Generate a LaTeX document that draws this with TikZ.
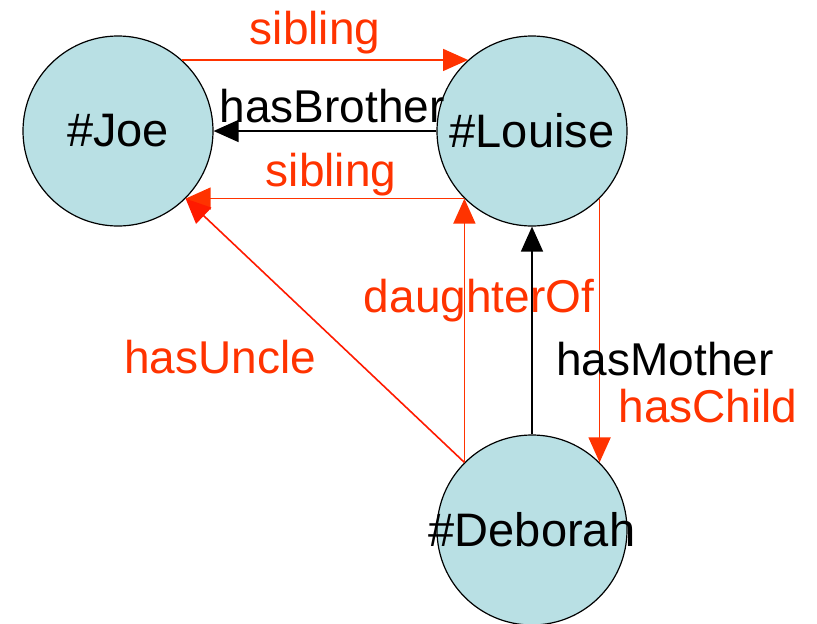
\documentclass[tikz,border=0pt]{standalone}
\usepackage{fontspec}
\setmainfont{Liberation Sans}
\usetikzlibrary{arrows.meta}
\definecolor{personfill}{HTML}{B9E0E4}
\definecolor{relred}{HTML}{FF3300}
\definecolor{unclered}{HTML}{FF1A00}

\begin{document}
\begin{tikzpicture}[
  x=1pt, y=-1pt,
  person/.style={circle, draw=black, fill=personfill, line width=1.2pt,
                 minimum size=190pt, inner sep=0pt,
                 label={[inner sep=0pt, font=\fontsize{47}{56}\selectfont]center:#1}},
  rel/.style={anchor=base, inner sep=0pt, font=\fontsize{46}{55}\selectfont},
  arrow/.style={-{Triangle[length=25pt,width=22pt]}, line width=1.6pt},
]
  \useasboundingbox (0,0) rectangle (817,624);
  \node[person=\#Joe] (joe) at (118,131) {};
  \node[person=\#Louise] (louise) at (532,131) {};
  \node[person=\#Deborah] (deborah) at (532,530) {};
  \draw[arrow, relred] (joe.48) -- (louise.132);
  \draw[arrow] (louise.west) -- (joe.east);
  \draw[arrow, relred] (louise.-135) -- (joe.-45);
  \draw[arrow, unclered] (deborah.135) -- (joe.-45);
  \draw[arrow, relred] (deborah.135) -- (louise.-135);
  \draw[arrow] (deborah.north) -- (louise.south);
  \draw[arrow, relred] (louise.-45) -- (deborah.45);
  % relation labels
  \node[rel, relred] (siblingtop) at (315,44) {sibling};
  \node[rel] (brother) at (332,122) {hasBrother};
  \node[rel, relred] (siblingbot) at (331,186) {sibling};
  \node[rel, relred] (daughter) at (479,312) {daughterOf};
  \node[rel, relred] (uncle) at (220,373) {hasUncle};
  \node[rel] (mother) at (665,375) {hasMother};
  \node[rel, relred] (child) at (708,422) {hasChild};
\end{tikzpicture}
\end{document}
